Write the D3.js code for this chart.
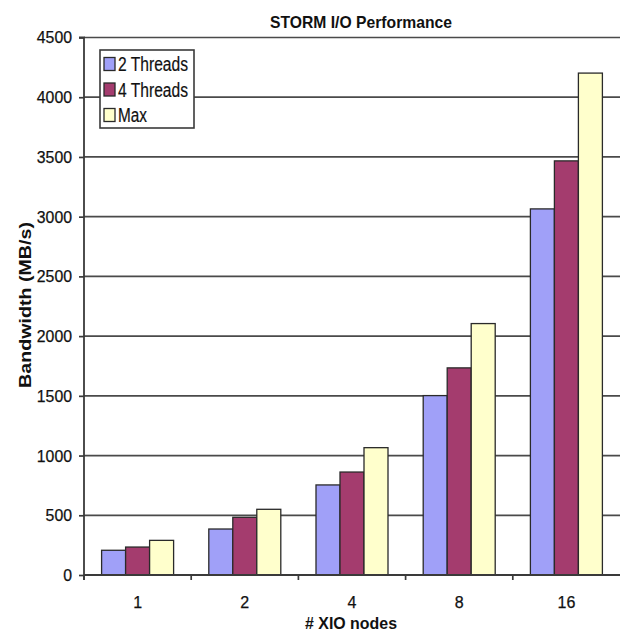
<!DOCTYPE html>
<html>
<head>
<meta charset="utf-8">
<script src="https://cdn.jsdelivr.net/npm/d3@7"></script>
<style>
  html, body { margin: 0; padding: 0; background: #ffffff; }
  svg { display: block; font-family: "Liberation Sans", Arial, sans-serif; }
</style>
</head>
<body>
<svg id="chart" width="620" height="634"></svg>
<script>
// Bandwidth per number of XIO nodes
const categories = ["1", "2", "4", "8", "16"];
const seriesNames = ["2 Threads", "4 Threads", "Max"];
const twoThreads = [207, 385, 754, 1502, 3065];
const fourThreads = [234, 483, 862, 1734, 3467];
const maxValues = [290, 550, 1066, 2105, 4202];
const yTicks = [0, 500, 1000, 1500, 2000, 2500, 3000, 3500, 4000, 4500];
const seriesColors = ["#a0a0f8", "#a43c6e", "#ffffcc"];

const series = [twoThreads, fourThreads, maxValues];

const svg = d3.select("#chart");
const plotLeft = 84, plotRight = 620, plotTop = 37.5, plotBottom = 575;

const x = d3.scaleBand().domain(categories).range([plotLeft, plotRight]).paddingInner(0).paddingOuter(0);
const barW = 24;
const groupW = barW * series.length;
const y = d3.scaleLinear().domain([0, 4500]).range([plotBottom, plotTop]);

// gridlines
svg.append("g")
  .selectAll("line")
  .data(yTicks.filter(d => d > 0))
  .join("line")
  .attr("x1", plotLeft).attr("x2", plotRight)
  .attr("y1", d => y(d)).attr("y2", d => y(d))
  .attr("stroke", "#4a4a4a").attr("stroke-width", 1.7);

// bars
series.forEach((vals, si) => {
  svg.append("g")
    .selectAll("rect")
    .data(vals)
    .join("rect")
    .attr("x", (d, i) => x(categories[i]) + x.bandwidth() / 2 - groupW / 2 + si * barW)
    .attr("y", d => y(d))
    .attr("width", barW)
    .attr("height", d => y(0) - y(d))
    .attr("fill", seriesColors[si])
    .attr("stroke", "#2a2a2a")
    .attr("stroke-width", 1.3);
});

// y axis
const yAxis = d3.axisLeft(y).tickValues(yTicks).tickSize(5).tickPadding(7).tickFormat(d3.format("d"));
const gy = svg.append("g").attr("transform", `translate(${plotLeft},0)`).call(yAxis);
gy.select(".domain").attr("stroke", "#3a3a3a").attr("stroke-width", 1.8).attr("d", `M-5,${plotTop}H0V${plotBottom + 5}`);
gy.selectAll(".tick line").attr("stroke", "#3a3a3a").attr("stroke-width", 1.7);
gy.selectAll(".tick text")
  .attr("font-size", 17).attr("fill", "#111")
  .attr("font-family", "'Liberation Sans', Arial, sans-serif")
  .attr("textLength", d => String(d).length * 8.8)
  .attr("lengthAdjust", "spacingAndGlyphs")
  .attr("stroke", "#111").attr("stroke-width", 0.25);

// x axis: ticks sit on category boundaries
const gx = svg.append("g").attr("transform", `translate(0,${plotBottom})`);
gx.append("line").attr("x1", plotLeft).attr("x2", plotRight).attr("y1", 0).attr("y2", 0)
  .attr("stroke", "#3a3a3a").attr("stroke-width", 1.8);
gx.selectAll("line.tk")
  .data(categories)
  .join("line")
  .attr("class", "tk")
  .attr("x1", d => x(d)).attr("x2", d => x(d))
  .attr("y1", 0).attr("y2", 5)
  .attr("stroke", "#3a3a3a").attr("stroke-width", 1.7);
gx.selectAll("text")
  .data(categories)
  .join("text")
  .attr("x", d => x(d) + x.bandwidth() / 2)
  .attr("y", 33)
  .attr("text-anchor", "middle")
  .attr("font-size", 16)
  .attr("fill", "#111")
  .attr("stroke", "#111").attr("stroke-width", 0.25)
  .text(d => d);

// title
svg.append("text")
  .attr("x", 361).attr("y", 28)
  .attr("text-anchor", "middle")
  .attr("font-size", 16.5).attr("font-weight", "bold")
  .attr("textLength", 182).attr("lengthAdjust", "spacingAndGlyphs")
  .attr("fill", "#111")
  .text("STORM I/O Performance");

// axis titles
svg.append("text")
  .attr("x", 351).attr("y", 629)
  .attr("text-anchor", "middle")
  .attr("font-size", 16.5).attr("font-weight", "bold")
  .attr("textLength", 92).attr("lengthAdjust", "spacingAndGlyphs")
  .attr("fill", "#111")
  .text("# XIO nodes");

svg.append("text")
  .attr("transform", "translate(31,305) rotate(-90)")
  .attr("text-anchor", "middle")
  .attr("font-size", 17).attr("font-weight", "bold")
  .attr("textLength", 166).attr("lengthAdjust", "spacingAndGlyphs")
  .attr("fill", "#111")
  .text("Bandwidth (MB/s)");

// legend
const legend = svg.append("g");
legend.append("rect")
  .attr("x", 100).attr("y", 50).attr("width", 94).attr("height", 78)
  .attr("fill", "#ffffff").attr("stroke", "#3a3a3a").attr("stroke-width", 1.6);
const legendWidths = [70, 70, 29];
seriesNames.forEach((name, i) => {
  const cy = 64 + i * 25.5;
  legend.append("rect")
    .attr("x", 104).attr("y", cy - 6.5).attr("width", 11).attr("height", 13)
    .attr("fill", seriesColors[i]).attr("stroke", "#2a2a2a").attr("stroke-width", 1.3);
  legend.append("text")
    .attr("x", 118).attr("y", cy + 7)
    .attr("font-size", 19.5)
    .attr("textLength", legendWidths[i]).attr("lengthAdjust", "spacingAndGlyphs")
    .attr("fill", "#111")
    .attr("stroke", "#111").attr("stroke-width", 0.2)
    .text(name);
});
</script>
</body>
</html>
